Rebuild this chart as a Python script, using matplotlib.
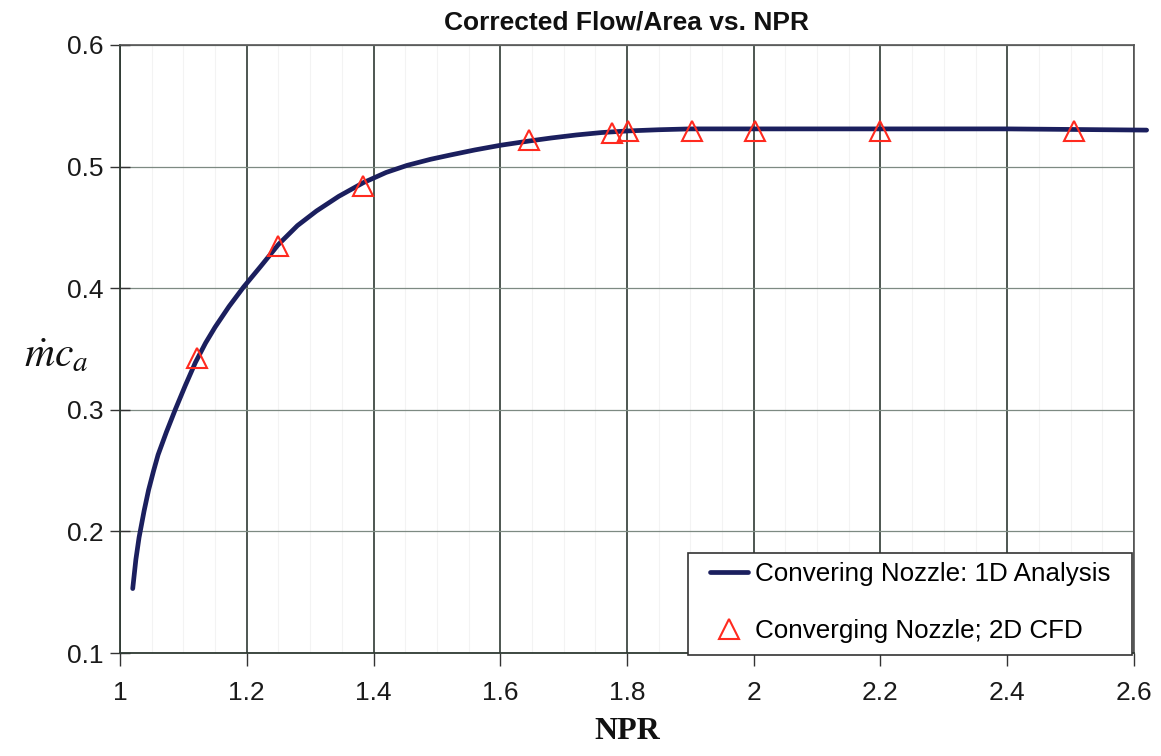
import matplotlib
matplotlib.use("Agg")
import matplotlib.pyplot as plt
from matplotlib.patches import Rectangle
from matplotlib.ticker import MultipleLocator

# 1D isentropic analysis of the converging nozzle (NPR vs corrected flow per area)
npr_1d = [1.020, 1.025, 1.030, 1.038, 1.045, 1.053, 1.060, 1.073, 1.087, 1.103,
          1.119, 1.135, 1.150, 1.172, 1.195, 1.222, 1.250, 1.280, 1.310, 1.345,
          1.384, 1.420, 1.453, 1.490, 1.521, 1.560, 1.600, 1.645, 1.680, 1.720,
          1.760, 1.800, 1.850, 1.900, 2.000, 2.200, 2.400, 2.620]
mca_1d = [0.153, 0.177, 0.195, 0.217, 0.234, 0.250, 0.263, 0.2815, 0.300, 0.320,
          0.339, 0.355, 0.368, 0.385, 0.401, 0.418, 0.436, 0.4515, 0.4635, 0.4755,
          0.4868, 0.4952, 0.501, 0.506, 0.5095, 0.5137, 0.5175, 0.521, 0.5235, 0.526,
          0.528, 0.5293, 0.5303, 0.531, 0.531, 0.531, 0.531, 0.530]

# 2D CFD results
npr_cfd = [1.122, 1.250, 1.384, 1.645, 1.777, 1.802, 1.902, 2.002, 2.200, 2.505]
mca_cfd = [0.343, 0.435, 0.484, 0.522, 0.528, 0.529, 0.529, 0.529, 0.529, 0.529]

x_ticks = [1.0, 1.2, 1.4, 1.6, 1.8, 2.0, 2.2, 2.4, 2.6]
x_tick_labels = ["1", "1.2", "1.4", "1.6", "1.8", "2", "2.2", "2.4", "2.6"]
y_ticks = [0.1, 0.2, 0.3, 0.4, 0.5, 0.6]
y_tick_labels = ["0.1", "0.2", "0.3", "0.4", "0.5", "0.6"]

plt.rcParams["font.family"] = ["Liberation Sans", "DejaVu Sans"]
plt.rcParams["mathtext.fontset"] = "stix"

fig = plt.figure(figsize=(11.61, 7.56), dpi=100)
ax = fig.add_axes([0.1034, 0.1362, 0.8733, 0.8043])

ax.set_xlim(1.0, 2.6)
ax.set_ylim(0.1, 0.6)

# grid: faint minor verticals, dark major verticals, grey horizontals
ax.xaxis.set_minor_locator(MultipleLocator(0.05))
ax.grid(which="minor", axis="x", color="#f3f3f3", linewidth=0.8)
ax.grid(which="major", axis="x", color="#2f3a33", linewidth=1.2)
ax.grid(which="major", axis="y", color="#7d8a82", linewidth=0.9)
ax.set_axisbelow(True)

ax.plot(npr_1d, mca_1d, color="#1b1f5e", linewidth=3.4,
        label="Convering Nozzle: 1D Analysis", zorder=3, clip_on=False,
        solid_capstyle="round", solid_joinstyle="round")
ax.plot(npr_cfd, mca_cfd, linestyle="none", marker="^", markersize=15,
        markerfacecolor="none", markeredgecolor="#ff2a1f", markeredgewidth=1.5,
        label="Converging Nozzle; 2D CFD", zorder=4)

ax.set_xticks(x_ticks)
ax.set_xticklabels(x_tick_labels)
ax.set_yticks(y_ticks)
ax.set_yticklabels(y_tick_labels)
ax.tick_params(axis="x", which="major", direction="out", length=9, width=1.0,
               color="#333333", labelsize=19, pad=11, labelcolor="#1a1a1a")
ax.tick_params(axis="x", which="minor", length=0)
ax.tick_params(axis="y", direction="inout", length=14, width=1.0,
               color="#333333", labelsize=19, pad=5, labelcolor="#1a1a1a")

for side in ("left", "bottom"):
    ax.spines[side].set_color("#2f3a33")
    ax.spines[side].set_linewidth(1.3)
for side in ("top", "right"):
    ax.spines[side].set_color("#555555")
    ax.spines[side].set_linewidth(1.2)

ax.set_title("Corrected Flow/Area vs. NPR", fontsize=19, fontweight="bold",
             pad=11, color="#111111")
ax.set_xlabel("NPR", fontsize=23, fontweight="bold",
              family=["Liberation Serif", "DejaVu Serif"], labelpad=9,
              color="#111111")
fig.text(0.048, 0.53, r"$\dot{m}c_a$", fontsize=30, color="#111111",
         ha="center", va="center")

# legend box in the lower-right corner of the plot area
legend_box = Rectangle((0.5602, -0.003), 0.4378, 0.1675, transform=ax.transAxes,
                       facecolor="white", edgecolor="#333333", linewidth=1.2,
                       zorder=5, clip_on=False)
ax.add_patch(legend_box)
leg = ax.legend(loc="center left", bbox_to_anchor=(0.5819, 0.083), fontsize=18.7,
                frameon=False, handlelength=1.45, handletextpad=0.3,
                labelspacing=1.25, borderpad=0.0, borderaxespad=0.0)
leg.set_zorder(6)

fig.savefig("out.png", dpi=100, facecolor="white")
